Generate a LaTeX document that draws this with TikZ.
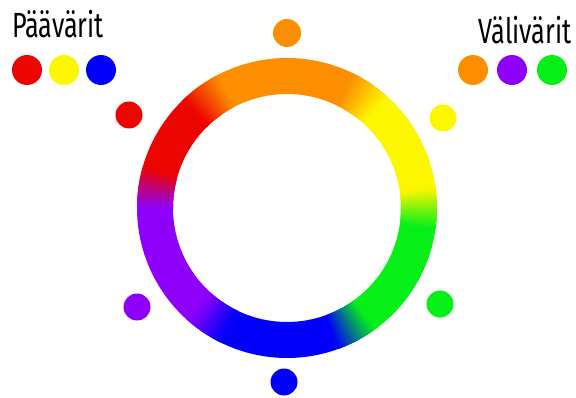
\documentclass[tikz,border=0pt]{standalone}
\usepackage{fontspec}
\usepackage{xcolor}
\usepackage{tikz}
\newfontfamily\handfont{Fira Sans}
\definecolor{wRed}{RGB}{236,4,0}
\definecolor{wOrange}{RGB}{252,142,0}
\definecolor{wYellow}{RGB}{252,246,0}
\definecolor{wGreen}{RGB}{6,240,24}
\definecolor{wBlue}{RGB}{2,0,250}
\definecolor{wPurple}{RGB}{142,0,252}

\begin{document}
\begin{tikzpicture}[x=1pt, y=1pt,
    dot/.style={circle, inner sep=0pt, minimum size=#1},
    dot/.default=30pt,
    title/.style={font=\handfont\fontsize{35}{35}\selectfont, xscale=0.72,
                  anchor=base, inner sep=0pt}
  ]
  \useasboundingbox (0,0) rectangle (576,397);

  % ring
  \begin{scope}[shift={(287,189)}]
    \foreach \s/\e/\c in {-62/0/wGreen, 0/56/wYellow, 56/126/wOrange,
                          126/172/wRed, 172/236/wPurple, 236/298/wBlue}{
      \fill[\c] (\s-0.5:150) arc[start angle=\s-0.5, end angle=\e+0.5, radius=150]
        -- (\e+0.5:114) arc[start angle=\e+0.5, end angle=\s-0.5, radius=114] -- cycle;
    }
    \foreach \b/\ca/\cb in {0/wGreen/wYellow, 56/wYellow/wOrange, 126/wOrange/wRed,
                            172/wRed/wPurple, 236/wPurple/wBlue, 298/wBlue/wGreen}{
      \foreach \i in {0,...,15}{
        \pgfmathsetmacro\st{\b-8+\i}
        \pgfmathsetmacro\en{\st+1.4}
        \pgfmathtruncatemacro\p{100-(\i+0.5)*100/16}
        \fill[\ca!\p!\cb] (\st:150) arc[start angle=\st, end angle=\en, radius=150]
          -- (\en:114) arc[start angle=\en, end angle=\st, radius=114] -- cycle;
      }
    }
  \end{scope}

  % dots round the wheel
  \node[dot=28pt, fill=wOrange] (wheelOrange) at (287,364) {};
  \node[dot=27pt, fill=wYellow] (wheelYellow) at (443,279) {};
  \node[dot=27pt, fill=wGreen]  (wheelGreen)  at (440,93)  {};
  \node[dot=27pt, fill=wBlue]   (wheelBlue)   at (284,15)  {};
  \node[dot=27pt, fill=wPurple] (wheelPurple) at (137,90)  {};
  \node[dot=27pt, fill=wRed]    (wheelRed)    at (129,282) {};

  % legends
  \node[title] (primTitle) at (58,359) {Päävärit};
  \node[dot, fill=wRed]    (primRed)    at (27,327)  {};
  \node[dot, fill=wYellow] (primYellow) at (64,327)  {};
  \node[dot, fill=wBlue]   (primBlue)   at (101,327) {};

  \node[title] (secTitle) at (525,353) {Välivärit};
  \node[dot, fill=wOrange] (secOrange) at (473,327) {};
  \node[dot, fill=wPurple] (secPurple) at (512,327) {};
  \node[dot, fill=wGreen]  (secGreen)  at (552,327) {};
\end{tikzpicture}
\end{document}
